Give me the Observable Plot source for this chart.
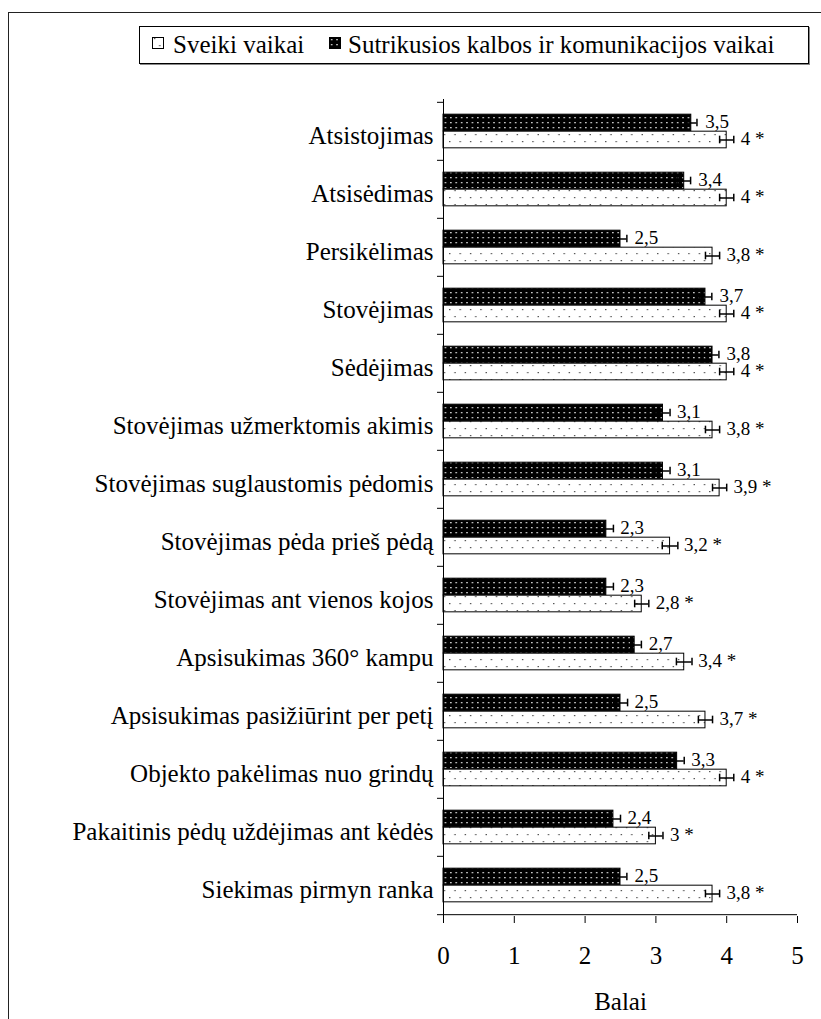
<!DOCTYPE html>
<html lang="lt">
<head>
<meta charset="utf-8">
<script src="https://cdn.jsdelivr.net/npm/d3@7"></script>
<script src="https://cdn.jsdelivr.net/npm/@observablehq/plot@0.6"></script>
<style>
  body { margin: 0; background: #fff; }
  #wrap { position: relative; width: 821px; height: 1019px; overflow: hidden;
          font-family: "Liberation Serif", "Tinos", "Times New Roman", "DejaVu Serif", "Noto Serif", serif; color: #000; }
  #frame { position: absolute; left: 8px; top: 12px; width: 830px; height: 1030px;
           border-left: 1.5px solid #222; border-top: 1.5px solid #222; }
  #chart { position: absolute; left: 0; top: 0; }
  #legend { position: absolute; left: 139px; top: 26px; width: 668px; height: 36px;
            border: 1px solid #000; box-shadow: 1px 1px 0 #888; background: #fff;
            font-size: 25px; line-height: 36px; white-space: nowrap; }
  #legend .sw { position: absolute; top: 10px; width: 12px; height: 12px; }
  #legend .lb { position: absolute; top: 0; }
</style>
</head>
<body>
<svg width="0" height="0" style="position:absolute">
  <defs>
    <pattern id="dotsDark" patternUnits="userSpaceOnUse" width="5.4" height="5">
      <rect width="5.4" height="5" fill="#000"></rect>
      <rect x="2" y="2" width="1.3" height="1.3" fill="#fff"></rect>
    </pattern>
    <pattern id="dotsLight" patternUnits="userSpaceOnUse" width="10.4" height="14">
      <rect width="10.4" height="14" fill="#fff"></rect>
      <rect x="2" y="1" width="1.2" height="1.2" fill="#333"></rect>
      <rect x="7.2" y="8" width="1.2" height="1.2" fill="#333"></rect>
    </pattern>
  </defs>
</svg>
<div id="wrap">
  <div id="frame"></div>
  <div id="chart"></div>
  <div id="legend"></div>
</div>
<script>
// Balance test items
const categories = [
  "Atsistojimas",
  "Atsisėdimas",
  "Persikėlimas",
  "Stovėjimas",
  "Sėdėjimas",
  "Stovėjimas užmerktomis akimis",
  "Stovėjimas suglaustomis pėdomis",
  "Stovėjimas pėda prieš pėdą",
  "Stovėjimas ant vienos kojos",
  "Apsisukimas 360° kampu",
  "Apsisukimas pasižiūrint per petį",
  "Objekto pakėlimas nuo grindų",
  "Pakaitinis pėdų uždėjimas ant kėdės",
  "Siekimas pirmyn ranka"
];

// Mean scores (Balai) and their error bars
const healthy     = [4, 4, 3.8, 4, 4, 3.8, 3.9, 3.2, 2.8, 3.4, 3.7, 4, 3, 3.8];
const healthyErr  = [0.1, 0.1, 0.1, 0.1, 0.1, 0.1, 0.1, 0.11, 0.1, 0.11, 0.1, 0.1, 0.1, 0.1];
const impaired    = [3.5, 3.4, 2.5, 3.7, 3.8, 3.1, 3.1, 2.3, 2.3, 2.7, 2.5, 3.3, 2.4, 2.5];
const impairedErr = [0.08, 0.09, 0.09, 0.09, 0.09, 0.1, 0.1, 0.1, 0.1, 0.095, 0.1, 0.1, 0.1, 0.09];

const seriesNames = ["Sveiki vaikai", "Sutrikusios kalbos ir komunikacijos vaikai"];
const significance = "*";
const xTicks = [0, 1, 2, 3, 4, 5];
const xLabel = "Balai";

const rows = categories.map((c, i) => ({
  c, h: healthy[i], he: healthyErr[i], s: impaired[i], se: impairedErr[i]
}));

const serif = "'Liberation Serif', 'Tinos', 'Times New Roman', 'DejaVu Serif', 'Noto Serif', serif";
const W = 821, H = 1019, mTop = 99, mBottom = 103, mLeft = 443, mRight = 24;
const step = (H - mTop - mBottom) / categories.length;
const half = step / 2;
const barH = 17;
const cap = 4;
const fmt = v => String(v).replace(".", ",");

const chart = Plot.plot({
  width: W,
  height: H,
  marginTop: mTop,
  marginBottom: mBottom,
  marginLeft: mLeft,
  marginRight: mRight,
  style: { fontFamily: serif, fontSize: "25px", color: "#000", background: "transparent", overflow: "visible" },
  x: { domain: [0, 5] },
  y: { domain: categories, padding: 0 },
  marks: [
    // bars: impaired group on top, healthy group below
    Plot.barX(rows, { y: "c", x: "s", fill: "url(#dotsDark)", stroke: "#000", strokeWidth: 1,
      insetTop: half - barH, insetBottom: half }),
    Plot.barX(rows, { y: "c", x: "h", fill: "url(#dotsLight)", stroke: "#000", strokeWidth: 1,
      insetTop: half, insetBottom: half - barH }),

    // error bars
    Plot.ruleY(rows, { y: "c", x1: d => d.s - d.se, x2: d => d.s + d.se, dy: -barH / 2, stroke: "#000", strokeWidth: 1.5 }),
    Plot.tickX(rows, { y: "c", x: d => d.s - d.se, stroke: "#000", strokeWidth: 1.5,
      insetTop: half - barH / 2 - cap, insetBottom: half + barH / 2 - cap }),
    Plot.tickX(rows, { y: "c", x: d => d.s + d.se, stroke: "#000", strokeWidth: 1.5,
      insetTop: half - barH / 2 - cap, insetBottom: half + barH / 2 - cap }),
    Plot.ruleY(rows, { y: "c", x1: d => d.h - d.he, x2: d => d.h + d.he, dy: barH / 2, stroke: "#000", strokeWidth: 1.5 }),
    Plot.tickX(rows, { y: "c", x: d => d.h - d.he, stroke: "#000", strokeWidth: 1.5,
      insetTop: half + barH / 2 - cap, insetBottom: half - barH / 2 - cap }),
    Plot.tickX(rows, { y: "c", x: d => d.h + d.he, stroke: "#000", strokeWidth: 1.5,
      insetTop: half + barH / 2 - cap, insetBottom: half - barH / 2 - cap }),

    // value labels
    Plot.text(rows, { y: "c", x: "s", text: d => fmt(d.s), dx: 14, dy: -barH / 2 - 1,
      textAnchor: "start", fontSize: 19, fontFamily: serif, fill: "#000" }),
    Plot.text(rows, { y: "c", x: "h", text: d => `${fmt(d.h)} ${significance}`, dx: 14, dy: barH / 2 - 1,
      textAnchor: "start", fontSize: 19, fontFamily: serif, fill: "#000" }),

    // category axis line and ticks at band boundaries
    Plot.ruleX([0], { stroke: "#000", strokeWidth: 1 }),
    Plot.ruleY(categories, { y: d => d, x1: 0, x2: 0, dy: -half, insetLeft: -6, stroke: "#000" }),
    Plot.ruleY(categories.slice(-1), { y: d => d, x1: 0, x2: 5, dy: half, insetLeft: -6, stroke: "#000" }),

    Plot.axisY({ tickSize: 0, tickPadding: 10, fontSize: 25, fontFamily: serif, dy: 4, label: null }),
    Plot.axisX({ ticks: xTicks, tickFormat: d => String(d), tickSize: 7, tickPadding: 23, fontSize: 25, fontFamily: serif,
      label: xLabel, labelAnchor: "center", labelArrow: "none", labelOffset: 93 })
  ]
});
document.getElementById("chart").append(chart);

// legend
const legend = document.getElementById("legend");
const items = [
  { name: seriesNames[0], fill: "url(#dotsLight)", sw: 12, lb: 33 },
  { name: seriesNames[1], fill: "url(#dotsDark)", sw: 189, lb: 208 }
];
for (const it of items) {
  const sw = document.createElementNS("http://www.w3.org/2000/svg", "svg");
  sw.setAttribute("class", "sw");
  sw.setAttribute("width", 12);
  sw.setAttribute("height", 12);
  sw.style.left = it.sw + "px";
  sw.innerHTML = `<rect x="0.5" y="0.5" width="11" height="11" fill="${it.fill}" stroke="#000"></rect>`;
  legend.append(sw);
  const lb = document.createElement("span");
  lb.className = "lb";
  lb.style.left = it.lb + "px";
  lb.textContent = it.name;
  legend.append(lb);
}
</script>
</body>
</html>
